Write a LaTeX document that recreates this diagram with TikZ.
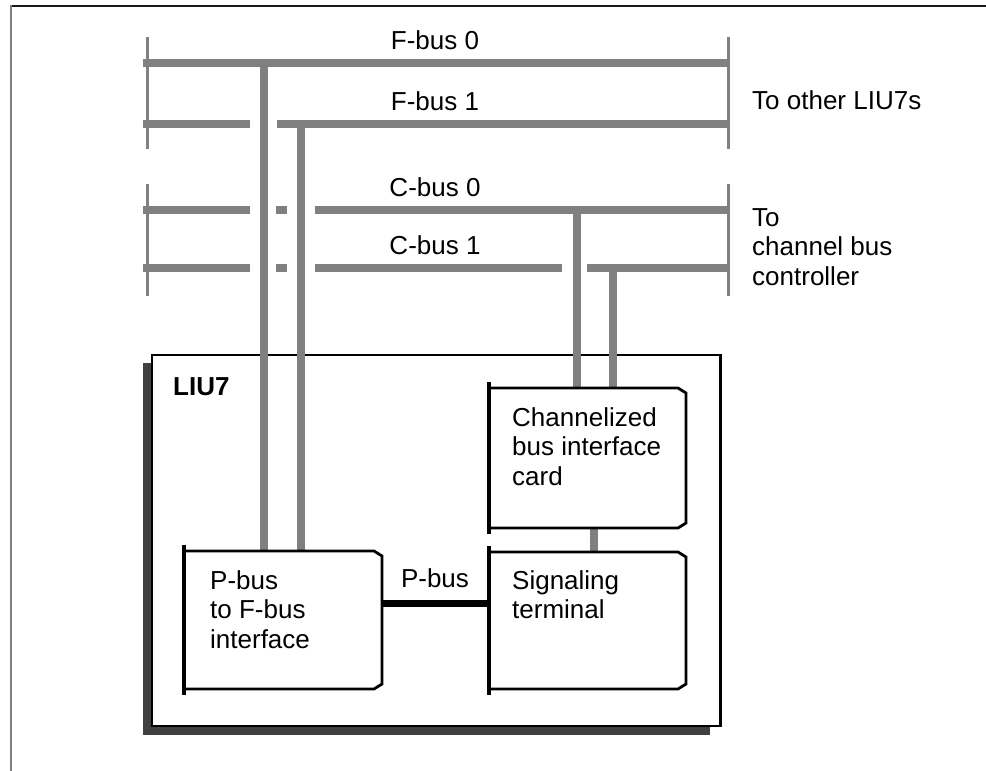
\documentclass[tikz,border=0pt]{standalone}
\usepackage{fontspec}
\setmainfont{Liberation Sans}
\usetikzlibrary{calc}
\definecolor{busgray}{HTML}{808080}
\definecolor{shadowgray}{HTML}{404040}
\newcommand\cardoutline[1]{%
  \draw[cardedge] (#1.north west) -- ($(#1.north east)+(-8,0)$) -- ($(#1.north east)+(0,5)$)
    -- ($(#1.south east)+(0,-5)$) -- ($(#1.south east)+(-8,0)$) -- (#1.south west);
  \draw[cardbar] ($(#1.north west)+(-1,-6)$) -- ($(#1.south west)+(-1,6)$);
}
\begin{document}
\begin{tikzpicture}[x=1pt,y=-1pt,
  bus/.style={busgray,line width=7.5pt},
  drop/.style={busgray,line width=8pt},
  endmark/.style={busgray,line width=3pt},
  cardedge/.style={black,line width=2.8pt,line join=miter},
  cardbar/.style={black,line width=4.5pt},
  cardnode/.style={draw=none,inner sep=0pt,outer sep=0pt,anchor=north west},
  txt/.style={font=\fontsize{26}{29.5}\selectfont,inner sep=0pt,align=left},
  pbusline/.style={black,line width=7pt}]
\useasboundingbox (0,0) rectangle (986,771);
% frame
\draw[black!90,line width=2pt] (10,6) -- (986,6);
\draw[busgray,line width=2pt] (11,5) -- (11,771);
% buses
\draw[bus] (143,63) -- (728,63);
\draw[bus] (143,124) -- (250,124) (277,124) -- (728,124);
\draw[bus] (143,210) -- (250,210) (276,210) -- (287,210) (315,210) -- (728,210);
\draw[bus] (143,268) -- (250,268) (276,268) -- (287,268) (315,268) -- (562,268) (587,268) -- (728,268);
% end markers
\draw[endmark] (147,37) -- (147,149);
\draw[endmark] (728,37) -- (728,149);
\draw[endmark] (147,184) -- (147,296);
\draw[endmark] (728,184) -- (728,296);
% bus labels
\node[txt,anchor=base] (f0lbl) at (435,49) {F-bus 0};
\node[txt,anchor=base] (f1lbl) at (435,110) {F-bus 1};
\node[txt,anchor=base] (c0lbl) at (435,196) {C-bus 0};
\node[txt,anchor=base] (c1lbl) at (435,254) {C-bus 1};
\node[txt,anchor=base west] (other) at (752,109) {To other LIU7s};
\node[txt,anchor=north west] (ctrl) at (752,208) {To\\channel bus\\controller};
% LIU7 box
\fill[shadowgray] (143,363) rectangle (710,735);
\node[draw=black,fill=white,line width=2.8pt,inner sep=0pt,outer sep=0pt,anchor=north west,
  minimum width=568.5pt,minimum height=371pt] (liu) at (152,355) {};
\node[txt,font=\fontsize{26}{29.5}\selectfont\bfseries,anchor=base west] (liulbl) at (173,395) {LIU7};
% cards
\node[cardnode,minimum width=196pt,minimum height=140pt] (cbic) at (490,388) {};
\node[cardnode,minimum width=196pt,minimum height=137pt] (sig) at (490,552) {};
\node[cardnode,minimum width=197pt,minimum height=138pt] (pb) at (185,551) {};
% bus tap coordinates
\coordinate (f0tap) at (264,59.5);
\coordinate (f1tap) at (301,120.5);
\coordinate (c0tap) at (577,206.5);
\coordinate (c1tap) at (613,264.5);
\coordinate (cbicsig) at (594,0);
\coordinate (pbusy) at (0,603);
% drops
\draw[drop] (f0tap) -- (f0tap |- pb.north);
\draw[drop] (f1tap) -- (f1tap |- pb.north);
\draw[drop] (c0tap) -- (c0tap |- cbic.north);
\draw[drop] (c1tap) -- (c1tap |- cbic.north);
\draw[drop,line width=7.5pt] (cbicsig |- cbic.south) -- (cbicsig |- sig.north);
\draw[pbusline] (pb.east |- pbusy) -- (sig.west |- pbusy);
\node[txt,anchor=base] (pbuslbl) at (435,587) {P-bus};
% card outlines
\cardoutline{cbic}
\cardoutline{sig}
\cardoutline{pb}
% card texts
\node[txt,anchor=north west] (cbictxt) at (512,407) {Channelized\\bus interface\\card};
\node[txt,anchor=north west] (sigtxt) at (512,570) {Signaling\\terminal};
\node[txt,anchor=north west] (pbtxt) at (210,570) {P-bus\\to F-bus\\interface};
\end{tikzpicture}
\end{document}
